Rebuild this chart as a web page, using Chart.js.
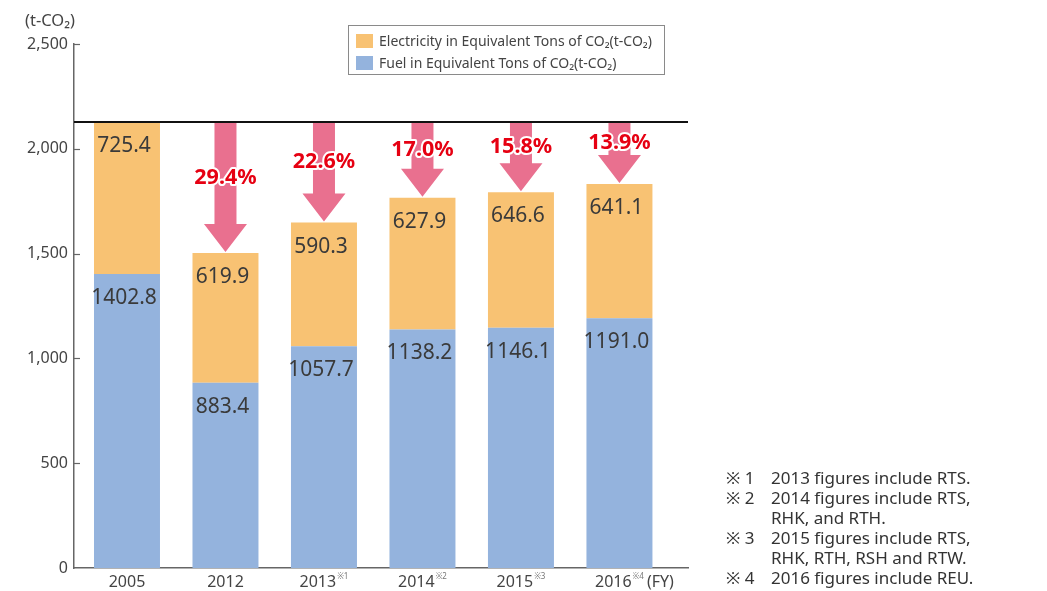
<!DOCTYPE html>
<html><head><meta charset="utf-8">
<script src="https://cdn.jsdelivr.net/npm/chart.js@4.4.0/dist/chart.umd.min.js"></script>
<style>
body{margin:0;background:#fff;font-family:"Noto Sans",sans-serif;}
#wrap{position:relative;width:1047px;height:591px;overflow:hidden;}
#c{position:absolute;left:0;top:0;}
.unit{position:absolute;left:25px;top:8px;font-size:16.5px;color:#444;}
.legend{position:absolute;left:348px;top:25px;width:317px;height:50px;border:1px solid #8a8a8a;box-sizing:border-box;font-size:14px;color:#444;}
.legend .row{position:absolute;left:7px;display:flex;align-items:center;white-space:nowrap;}
.legend .sw{width:17px;height:14px;margin-right:6px;}
.notes{position:absolute;left:726px;top:468px;font-size:17px;color:#333;line-height:20px;}
.notes .n{display:flex;white-space:nowrap;height:20px;}
.notes .m{width:45px;}
</style></head>
<body>
<div id="wrap">
<canvas id="c" width="1047" height="591"></canvas>
<div class="unit">(t-CO₂)</div>
<div class="legend" id="legend"></div>
<div class="notes">
<div class="n"><span class="m">※ 1</span><span>2013 figures include RTS.</span></div>
<div class="n"><span class="m">※ 2</span><span>2014 figures include RTS,</span></div>
<div class="n"><span class="m"></span><span>RHK, and RTH.</span></div>
<div class="n"><span class="m">※ 3</span><span>2015 figures include RTS,</span></div>
<div class="n"><span class="m"></span><span>RHK, RTH, RSH and RTW.</span></div>
<div class="n"><span class="m">※ 4</span><span>2016 figures include REU.</span></div>
</div>
</div>
<script>
const categories = ['2005', '2012', '2013', '2014', '2015', '2016'];
const noteMarks = ['', '', '※1', '※2', '※3', '※4'];
const fuel = [1402.8, 883.4, 1057.7, 1138.2, 1146.1, 1191.0];
const electricity = [725.4, 619.9, 590.3, 627.9, 646.6, 641.1];
const reductionLabels = ['', '29.4%', '22.6%', '17.0%', '15.8%', '13.9%'];
const yTicks = [0, 500, 1000, 1500, 2000, 2500];
const fuelLabel = 'Fuel in Equivalent Tons of CO₂(t-CO₂)';
const elecLabel = 'Electricity in Equivalent Tons of CO₂(t-CO₂)';

const COL_FUEL = '#94B3DD', COL_ELEC = '#F8C273', COL_ARROW = '#E9708F';
const FONT = '"Noto Sans", sans-serif';

// HTML legend
const lg = document.getElementById('legend');
[[elecLabel, COL_ELEC, 5], [fuelLabel, COL_FUEL, 27]].forEach(([t, c, top]) => {
  const r = document.createElement('div');
  r.className = 'row'; r.style.top = top + 'px';
  r.innerHTML = '<span class="sw" style="background:' + c + '"></span><span>' + t + '</span>';
  lg.appendChild(r);
});

const overlay = {
  id: 'overlay',
  afterDatasetsDraw(chart) {
    const ctx = chart.ctx, x = chart.scales.x, y = chart.scales.y, ca = chart.chartArea;
    const totals = fuel.map((v, i) => v + electricity[i]);
    ctx.save();
    // inner y tick marks
    ctx.strokeStyle = '#666'; ctx.lineWidth = 1.2;
    yTicks.forEach(t => {
      if (t === 0) return;
      const py = Math.round(y.getPixelForValue(t)) + 0.5;
      ctx.beginPath(); ctx.moveTo(ca.left, py); ctx.lineTo(ca.left + 6, py); ctx.stroke();
    });
    // reference line (2005 total)
    const yRef = y.getPixelForValue(totals[0]);
    ctx.strokeStyle = '#111'; ctx.lineWidth = 2;
    ctx.beginPath(); ctx.moveTo(ca.left, yRef); ctx.lineTo(ca.right, yRef); ctx.stroke();
    // arrows
    ctx.fillStyle = COL_ARROW;
    for (let i = 1; i < categories.length; i++) {
      const cx = x.getPixelForValue(i);
      const top = yRef + 1, tip = y.getPixelForValue(totals[i]) - 1;
      const headH = 28, sw = 11, hw = 21.5;
      ctx.beginPath();
      ctx.moveTo(cx - sw, top); ctx.lineTo(cx + sw, top);
      ctx.lineTo(cx + sw, tip - headH); ctx.lineTo(cx + hw, tip - headH);
      ctx.lineTo(cx, tip); ctx.lineTo(cx - hw, tip - headH);
      ctx.lineTo(cx - sw, tip - headH); ctx.closePath(); ctx.fill();
    }
    // reduction labels
    ctx.font = 'bold 21.5px ' + FONT;
    ctx.textAlign = 'center'; ctx.textBaseline = 'middle';
    ctx.lineJoin = 'round';
    for (let i = 1; i < categories.length; i++) {
      const cx = x.getPixelForValue(i);
      const tip = y.getPixelForValue(totals[i]);
      const ly = (yRef + tip) / 2 - 10;
      ctx.strokeStyle = '#fff'; ctx.lineWidth = 4;
      ctx.strokeText(reductionLabels[i], cx, ly);
      ctx.fillStyle = '#E60012';
      ctx.fillText(reductionLabels[i], cx, ly);
    }
    // value labels
    ctx.font = '21px ' + FONT; ctx.fillStyle = '#3a3a3a';
    for (let i = 0; i < categories.length; i++) {
      const cx = x.getPixelForValue(i) - 3;
      ctx.fillText(electricity[i].toFixed(1), cx, y.getPixelForValue(totals[i]) + 24);
      ctx.fillText(fuel[i].toFixed(1), cx, y.getPixelForValue(fuel[i]) + 24);
    }
    // x labels
    for (let i = 0; i < categories.length; i++) {
      const cx = x.getPixelForValue(i);
      ctx.font = '16px ' + FONT;
      const w = ctx.measureText(categories[i]).width;
      ctx.font = '8px ' + FONT;
      const m = noteMarks[i] ? ctx.measureText(noteMarks[i]).width + 1 : 0;
      const start = cx - (w + m) / 2;
      ctx.textAlign = 'left'; ctx.textBaseline = 'middle';
      ctx.font = '16px ' + FONT; ctx.fillStyle = '#444';
      ctx.fillText(categories[i], start, 582);
      if (noteMarks[i]) {
        ctx.font = '8px ' + FONT; ctx.fillStyle = '#777';
        ctx.fillText(noteMarks[i], start + w + 1, 577);
      }
      if (i === categories.length - 1) {
        ctx.font = '16px ' + FONT; ctx.fillStyle = '#444';
        ctx.fillText('(FY)', start + w + m + 3, 582);
      }
    }
    ctx.restore();
  }
};

new Chart(document.getElementById('c'), {
  type: 'bar',
  data: {
    labels: categories,
    datasets: [
      { label: fuelLabel, data: fuel, backgroundColor: COL_FUEL, borderWidth: 0 },
      { label: elecLabel, data: electricity, backgroundColor: COL_ELEC, borderWidth: 0 }
    ]
  },
  options: {
    responsive: false,
    animation: false,
    events: [],
    datasets: { bar: { barPercentage: 0.67, categoryPercentage: 1.0 } },
    layout: { padding: { left: 0, right: 359, top: 44, bottom: 23 } },
    plugins: { legend: { display: false }, tooltip: { enabled: false } },
    scales: {
      x: {
        stacked: true,
        grid: { display: false, drawTicks: false },
        border: { display: true, color: '#666', width: 1.5 },
        ticks: { display: false },
        afterBuildTicks: s => { s._startValue = -0.538; s._valueRange = 6.234; }
      },
      y: {
        stacked: true,
        min: 0, max: 2500,
        afterBuildTicks: s => { s.ticks = yTicks.map(v => ({ value: v })); },
        afterFit: s => { s.width = 74; },
        grid: { display: false, drawTicks: false },
        border: { display: true, color: '#666', width: 1.5 },
        ticks: {
          padding: 6, color: '#444',
          font: { family: '"Noto Sans"', size: 16 },
          callback: v => v.toLocaleString('en-US')
        }
      }
    }
  },
  plugins: [overlay]
});
</script>
</body></html>
